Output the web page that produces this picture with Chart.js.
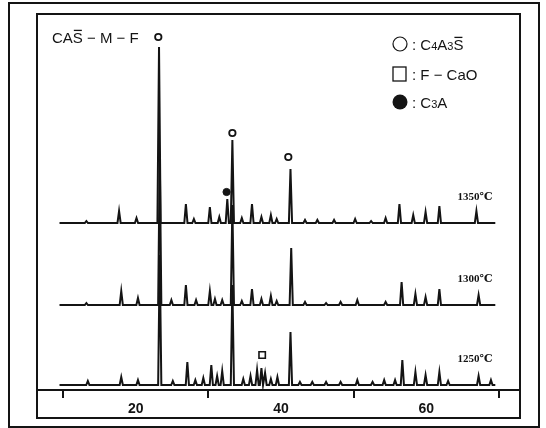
<!DOCTYPE html>
<html>
<head>
<meta charset="utf-8">
<script src="https://cdn.jsdelivr.net/npm/chart.js@4.4.1/dist/chart.umd.min.js"></script>
<style>
  html, body { margin: 0; padding: 0; background: #fff; }
  canvas { display: block; }
</style>
</head>
<body>
<canvas id="xrdChart" width="546" height="428"></canvas>
<script>
// --- DATA ---
// each peak: [2theta, height above the trace's own baseline]
const peaks1350 = [
  [13.2, 2], [17.7, 12], [20.1, 5], [23.2, 176], [26.9, 19], [28.0, 4], [30.2, 16], [31.5, 6],
  [32.6, 24], [33.3, 83], [34.6, 5], [36.0, 19], [37.3, 6], [38.6, 8], [39.4, 4], [41.3, 54],
  [43.3, 3], [45.0, 3], [47.3, 3], [50.2, 4], [52.4, 2], [54.4, 5], [56.3, 19], [58.2, 8],
  [59.9, 11], [61.8, 17], [66.9, 12]
];
const peaks1300 = [
  [13.2, 2], [18.0, 14], [20.3, 7], [23.3, 150], [24.9, 5], [26.9, 20], [28.3, 5], [30.2, 14],
  [30.9, 6], [31.9, 5], [33.3, 100], [34.6, 4], [36.0, 16], [37.3, 6], [38.6, 9], [39.4, 4],
  [41.4, 57], [43.3, 3], [46.2, 2], [48.2, 3], [50.5, 5], [54.4, 3], [56.6, 23], [58.5, 11],
  [59.9, 8], [61.8, 16], [67.2, 10]
];
const peaks1250 = [
  [13.4, 4], [18.0, 8], [20.3, 5], [23.3, 130], [25.1, 4], [27.1, 23], [28.2, 5], [29.3, 7],
  [30.4, 20], [31.2, 9], [31.9, 14], [33.3, 100], [34.8, 6], [35.8, 9], [36.7, 15], [37.3, 17],
  [37.8, 12], [38.6, 6], [39.5, 8], [41.3, 53], [42.6, 3], [44.3, 3], [46.2, 3], [48.2, 3],
  [50.5, 5], [52.6, 3], [54.2, 5], [55.7, 5], [56.7, 25], [58.5, 13], [59.9, 10], [61.8, 13],
  [63.0, 4], [67.2, 9], [68.9, 5]
];
const traceLabels = ['1350℃', '1300℃', '1250℃'];
const traceOffsets = [167, 85, 5];
const traceStart = 9.5;
const traceEnd = 69.5;

// phase marks above peaks: [2theta, intensity]
const c4a3sMarks = [[23.1, 353], [33.3, 257], [41.0, 233]];
const fcaoMarks = [[37.4, 35]];
const c3aMarks = [[32.5, 198]];

const tickValues = [10, 20, 30, 40, 50, 60, 70];
const labelledTicks = [20, 40, 60];

// --- BUILD ---
const INK = '#141414';
const halfWidth = 0.22;

function buildTrace(peaks, offset) {
  const pts = [{ x: traceStart, y: offset }];
  peaks.forEach(([pos, h]) => {
    pts.push({ x: pos - halfWidth, y: offset });
    pts.push({ x: pos, y: offset + h });
    pts.push({ x: pos + halfWidth, y: offset });
  });
  pts.push({ x: traceEnd, y: offset });
  return pts;
}

const toPts = arr => arr.map(([x, y]) => ({ x: x, y: y }));

const traceDatasets = [peaks1350, peaks1300, peaks1250].map((p, i) => ({
  label: traceLabels[i],
  data: buildTrace(p, traceOffsets[i]),
  showLine: true,
  borderColor: INK,
  borderWidth: 2,
  pointRadius: 0,
  tension: 0
}));

const markDatasets = [
  { label: 'C4A3S', data: toPts(c4a3sMarks), pointStyle: 'circle', pointRadius: 3.2,
    borderColor: INK, borderWidth: 1.8, backgroundColor: '#fff' },
  { label: 'F-CaO', data: toPts(fcaoMarks), pointStyle: 'rect', pointRadius: 4.5,
    borderColor: INK, borderWidth: 1.6, backgroundColor: '#fff' },
  { label: 'C3A', data: toPts(c3aMarks), pointStyle: 'circle', pointRadius: 3.6,
    borderColor: INK, borderWidth: 1, backgroundColor: INK }
];

const SANS = '"Liberation Sans Narrow", "Liberation Sans", Arial, sans-serif';

// text pieces in a row; a piece with bar gets a line over it (S̄ for SO3)
function barText(ctx, parts, x, y) {
  let cx = x;
  parts.forEach(p => {
    ctx.font = p.size + 'px ' + SANS;
    const w = ctx.measureText(p.t).width;
    ctx.fillText(p.t, cx, y);
    if (p.bar) {
      ctx.beginPath();
      ctx.moveTo(cx + 1, y - p.size * 0.84);
      ctx.lineTo(cx + w - 1, y - p.size * 0.84);
      ctx.lineWidth = 1.3;
      ctx.stroke();
    }
    cx += w;
  });
  return cx;
}

const decorPlugin = {
  id: 'decor',
  beforeDraw(chart) {
    const ctx = chart.ctx;
    ctx.save();
    ctx.fillStyle = '#fff';
    ctx.fillRect(0, 0, chart.width, chart.height);
    ctx.restore();
  },
  afterDraw(chart) {
    const ctx = chart.ctx;
    const area = chart.chartArea;
    const xs = chart.scales.x, ys = chart.scales.y;
    ctx.save();
    ctx.strokeStyle = INK;
    ctx.fillStyle = INK;

    // frames
    ctx.lineWidth = 2;
    ctx.strokeRect(area.left, area.top, area.right - area.left, 418 - area.top);
    ctx.strokeRect(9, 3, 530, 424);

    // sample title
    ctx.textBaseline = 'alphabetic';
    let cx = barText(ctx, [{ t: 'CA', size: 15 }, { t: 'S', size: 15, bar: true }], 52, 43);
    ctx.font = '15px ' + SANS;
    ctx.fillText(' − M − F', cx, 43);

    // legend
    const lx = 400;
    ctx.lineWidth = 1.2;
    ctx.beginPath();
    ctx.arc(lx, 44, 7, 0, Math.PI * 2);
    ctx.stroke();
    barText(ctx, [{ t: ': ', size: 15 }, { t: 'C', size: 15 }, { t: '4', size: 11 },
      { t: 'A', size: 15 }, { t: '3', size: 11 }, { t: 'S', size: 15, bar: true }], lx + 12, 50);

    ctx.strokeRect(lx - 7, 67, 13, 14);
    ctx.font = '15px ' + SANS;
    ctx.fillText(': F − CaO', lx + 12, 80);

    ctx.beginPath();
    ctx.arc(lx, 102, 7.5, 0, Math.PI * 2);
    ctx.fill();
    barText(ctx, [{ t: ': ', size: 15 }, { t: 'C', size: 15 }, { t: '3', size: 11 },
      { t: 'A', size: 15 }], lx + 12, 108);

    // temperature labels beside each trace
    ctx.font = 'bold 11px "Liberation Serif", "DejaVu Serif", serif';
    ctx.textAlign = 'center';
    ctx.textBaseline = 'middle';
    traceLabels.forEach((lab, i) => {
      ctx.fillText(lab, xs.getPixelForValue(66.7), ys.getPixelForValue(traceOffsets[i] + 26));
    });
    ctx.restore();
  }
};

new Chart(document.getElementById('xrdChart'), {
  type: 'scatter',
  data: { datasets: traceDatasets.concat(markDatasets) },
  options: {
    responsive: false,
    animation: false,
    layout: { padding: { left: 37, right: 26, top: 14, bottom: 0 } },
    plugins: { legend: { display: false }, tooltip: { enabled: false } },
    scales: {
      x: {
        type: 'linear',
        min: 6.4,
        max: 72.9,
        afterBuildTicks: scale => { scale.ticks = tickValues.map(v => ({ value: v })); },
        afterFit: scale => { scale.height = 38; },
        border: { display: true, color: INK, width: 2 },
        grid: {
          drawOnChartArea: false,
          drawTicks: true,
          tickLength: 8,
          lineWidth: 2,
          color: c => (c.tick && labelledTicks.includes(c.tick.value)) ? 'rgba(0,0,0,0)' : INK
        },
        ticks: {
          padding: 3,
          color: INK,
          font: { family: '"Liberation Sans", Arial, sans-serif', size: 14, weight: 'bold' },
          callback: v => labelledTicks.includes(v) ? String(v) : ''
        }
      },
      y: { display: false, min: 0, max: 376 }
    }
  },
  plugins: [decorPlugin]
});
</script>
</body>
</html>
